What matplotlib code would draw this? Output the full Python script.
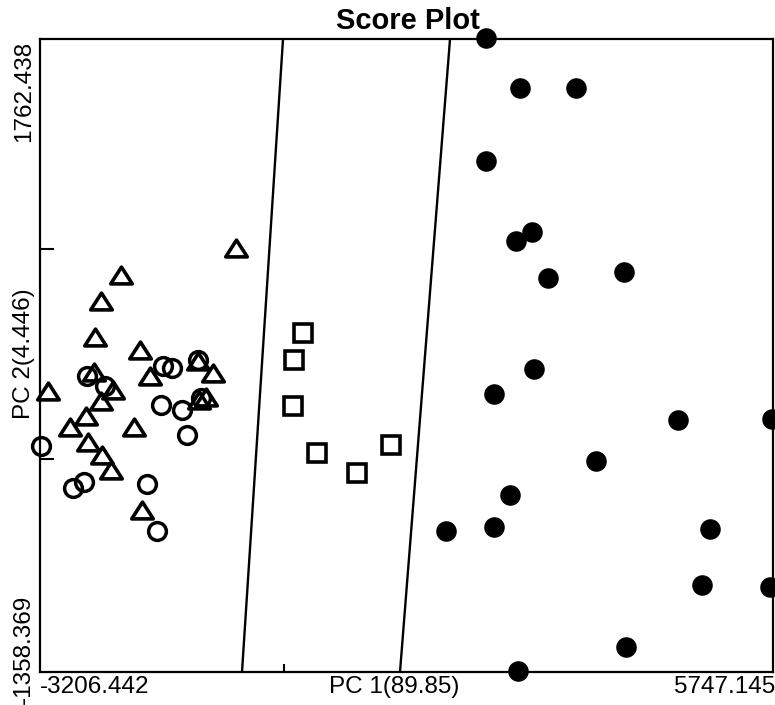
import numpy as np
import matplotlib
matplotlib.use("Agg")
import matplotlib.pyplot as plt
from matplotlib.path import Path

plt.rcParams['font.family'] = ['Liberation Sans', 'DejaVu Sans']

# limites dos eixos (como no grafico original)
x_min, x_max = -3206.442, 5747.145
y_min, y_max = -1358.369, 1762.438

# grupo 1 - circulos cheios
cheio_x = [2241, 2657, 3341, 2241, 2608, 2804, 2999, 3927, 2828, 2339, 4587,
           5735, 3585, 2535, 1753, 2339, 4978, 4880, 5711, 3952, 2632]
cheio_y = [1767, 1521, 1521, 1161, 766, 811, 584, 614, 135, 12, -116,
           -111, -318, -486, -663, -643, -653, -929, -939, -1235, -1353]

# grupo 2 - quadrados
quad_x = [7, -104, -116, 177, 666, 1081]
quad_y = [313, 180, -47, -279, -377, -239]

# grupo 3 - triangulos
tri_x = [-812, -2217, -2461, -2535, -3109, -1985, -2547, -2315, -2461, -2645, -2840,
         -2620, -2058, -2449, -2339, -1863, -1276, -1093, -1179, -1264, -1961]
tri_y = [732, 599, 471, 293, 27, 229, 121, 32, -22, -96, -150,
         -224, -150, -288, -362, 101, 175, 116, -3, -18, -560]

# grupo 4 - circulos abertos
circ_x = [-3194, -2632, -2412, -1704, -1594, -1276, -1728, -1472, -1411, -1240,
          -2803, -2669, -1899, -1777]
circ_y = [-244, 101, 51, 150, 140, 180, -42, -67, -190, -8,
          -451, -422, -432, -663]

# linhas de separacao (x no topo, x na base)
linha1_x = [-238, -739]
linha2_x = [1802, 1191]

fig = plt.figure(figsize=(7.75, 7.05), dpi=100)
ax = fig.add_axes([40 / 775, 33 / 705, 733 / 775, 633 / 705])

ax.plot(linha1_x, [y_max, y_min], color='black', lw=1.7, zorder=1)
ax.plot(linha2_x, [y_max, y_min], color='black', lw=1.7, zorder=1)

# triangulo mais largo do que alto
tri_marker = Path([(-1, -0.78), (1, -0.78), (0, 0.78), (-1, -0.78)],
                  [Path.MOVETO, Path.LINETO, Path.LINETO, Path.CLOSEPOLY])

ax.plot(cheio_x, cheio_y, 'o', ms=14.8, color='black', mec='black', mew=0,
        clip_on=False, zorder=3)
ax.plot(quad_x, quad_y, 's', ms=13.2, mfc='none', mec='black', mew=2.6,
        clip_on=False, zorder=3)
ax.plot(tri_x, tri_y, ls='none', marker=tri_marker, ms=15.5, mfc='none', mec='black',
        mew=2.6, clip_on=False, zorder=3)
ax.plot(circ_x, circ_y, 'o', ms=12.8, mfc='none', mec='black', mew=2.5,
        clip_on=False, zorder=3)

ax.set_xlim(x_min, x_max)
ax.set_ylim(y_min, y_max)
ax.set_xticks([-226])
ax.set_yticks([727, -308])
ax.set_xticklabels([])
ax.set_yticklabels([])
ax.tick_params(axis='x', direction='in', length=6, width=1.5)
ax.tick_params(axis='y', direction='in', length=10, width=1.5)
for s in ax.spines.values():
    s.set_linewidth(1.6)

# textos dos eixos
fs = 17.5
fig.text(408 / 775, 1 - 21 / 705, 'Score Plot', ha='center', va='center',
         fontsize=21, fontweight='bold')
fig.text(40 / 775, 1 - 676 / 705, '-3206.442', ha='left', va='top', fontsize=fs)
fig.text(775 / 775, 1 - 676 / 705, '5747.145', ha='right', va='top', fontsize=fs)
fig.text(394 / 775, 1 - 676 / 705, 'PC 1(89.85)', ha='center', va='top', fontsize=fs)
fig.text(24 / 775, 1 - 41 / 705, '1762.438', ha='center', va='top',
         rotation=90, fontsize=fs)
fig.text(24 / 775, 1 - 354 / 705, 'PC 2(4.446)', ha='center', va='center',
         rotation=90, fontsize=fs)
fig.text(24 / 775, 1 - 704 / 705, '-1358.369', ha='center', va='bottom',
         rotation=90, fontsize=fs)

fig.savefig('out.png', dpi=100)
